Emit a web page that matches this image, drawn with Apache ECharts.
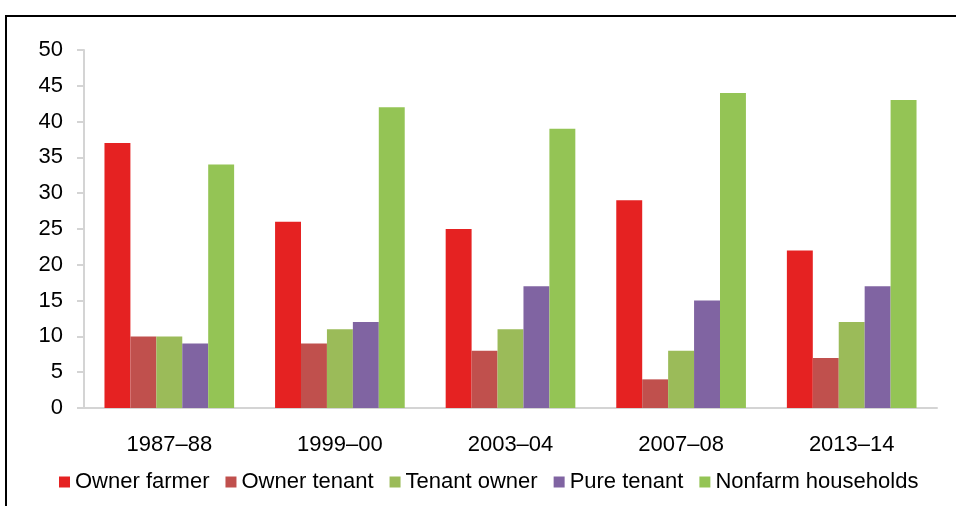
<!DOCTYPE html>
<html><head><meta charset="utf-8">
<script src="https://cdn.jsdelivr.net/npm/echarts@6/dist/echarts.min.js"></script>
<style>html,body{margin:0;padding:0;background:#fff}#c{width:956px;height:506px}</style>
</head><body><div id="c"></div>
<script>
const categories = ['1987–88','1999–00','2003–04','2007–08','2013–14'];
const ownerFarmer = [37, 26, 25, 29, 22];
const ownerTenant = [10, 9, 8, 4, 7];
const tenantOwner = [10, 11, 11, 8, 12];
const pureTenant = [9, 12, 17, 15, 17];
const nonfarm = [34, 42, 39, 44, 43];
const seriesNames = ['Owner farmer','Owner tenant','Tenant owner','Pure tenant','Nonfarm households'];
const seriesData = [ownerFarmer, ownerTenant, tenantOwner, pureTenant, nonfarm];
const colors = ['#E52222','#C0504D','#9BBB59','#8064A2','#94C455'];

const chart = echarts.init(document.getElementById('c'));
const font = 'Liberation Sans, Arial, sans-serif';
chart.setOption({
  animation: false,
  graphic: [{type:'rect', shape:{x:6,y:16,width:1100,height:700}, style:{fill:'none', stroke:'#000', lineWidth:2}, silent:true}],
  grid: {left:84, right:19, top:50, bottom:98},
  legend: {
    top: 466, left: 54, itemWidth: 11, itemHeight: 11, itemGap: 16,
    icon: 'rect',
    textStyle: {fontFamily: font, fontSize: 22, color: '#000'},
    data: seriesNames
  },
  xAxis: {
    type: 'category', data: categories,
    axisLine: {lineStyle: {color: '#d4d4d4', width: 2}},
    axisTick: {show: false},
    axisLabel: {fontFamily: font, fontSize: 22, color: '#000', margin: 26}
  },
  yAxis: {
    type: 'value', min: 0, max: 50, interval: 5,
    axisLine: {show: true, lineStyle: {color: '#d4d4d4', width: 2}},
    axisTick: {show: true, length: 7, lineStyle: {color: '#d4d4d4', width: 2}},
    splitLine: {show: false},
    axisLabel: {fontFamily: font, fontSize: 22, color: '#000', margin: 21}
  },
  series: seriesData.map((d, i) => ({
    name: seriesNames[i], type: 'bar', data: d,
    barGap: '0%', barCategoryGap: '24%',
    itemStyle: {color: colors[i]}
  }))
});
</script></body></html>
